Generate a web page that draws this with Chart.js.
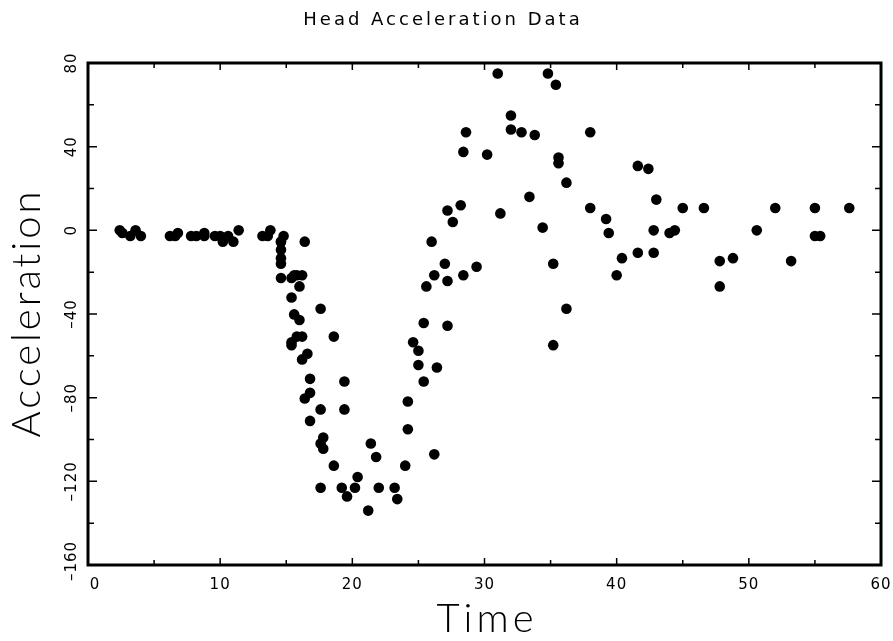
<!DOCTYPE html>
<html>
<head>
<meta charset="utf-8">
<script src="https://cdn.jsdelivr.net/npm/chart.js@4"></script>
<style>
  html, body { margin: 0; padding: 0; background: #fff; }
  canvas { display: block; }
</style>
</head>
<body>
<canvas id="chart" width="893" height="641"></canvas>
<script>
// motorcycle head acceleration data
const times = [2.4, 2.6, 3.2, 3.6, 4.0, 6.2, 6.6, 6.8, 7.8, 8.2, 8.8, 8.8, 9.6, 10.0, 10.2, 10.6, 11.0, 11.4,
  13.2, 13.6, 13.8, 14.6, 14.6, 14.6, 14.6, 14.6, 14.6, 14.8, 15.4, 15.4, 15.4, 15.4, 15.6, 15.6, 15.8, 15.8,
  16.0, 16.0, 16.2, 16.2, 16.2, 16.4, 16.4, 16.6, 16.8, 16.8, 16.8, 17.6, 17.6, 17.6, 17.6, 17.8, 17.8, 18.6,
  18.6, 19.2, 19.4, 19.4, 19.6, 20.2, 20.4, 21.2, 21.4, 21.8, 22.0, 23.2, 23.4, 24.0, 24.2, 24.2, 24.6, 25.0,
  25.0, 25.4, 25.4, 25.6, 26.0, 26.2, 26.2, 26.4, 27.0, 27.2, 27.2, 27.2, 27.6, 28.2, 28.4, 28.4, 28.6, 29.4,
  30.2, 31.0, 31.2, 32.0, 32.0, 32.8, 33.4, 33.8, 34.4, 34.8, 35.2, 35.2, 35.4, 35.6, 35.6, 36.2, 36.2, 38.0,
  38.0, 39.2, 39.4, 40.0, 40.4, 41.6, 41.6, 42.4, 42.8, 42.8, 43.0, 44.0, 44.4, 45.0, 46.6, 47.8, 47.8, 48.8,
  50.6, 52.0, 53.2, 55.0, 55.0, 55.4, 57.6];

const accel = [0.0, -1.3, -2.7, 0.0, -2.7, -2.7, -2.7, -1.3, -2.7, -2.7, -1.3, -2.7, -2.7, -2.7, -5.4, -2.7, -5.4, 0.0,
  -2.7, -2.7, 0.0, -13.3, -5.4, -5.4, -9.3, -16.0, -22.8, -2.7, -22.8, -32.1, -53.5, -54.9, -40.2, -21.5, -21.5, -50.8,
  -42.9, -26.8, -21.5, -50.8, -61.7, -5.4, -80.4, -59.0, -71.0, -91.1, -77.7, -37.5, -85.6, -123.1, -101.9, -99.1, -104.4, -112.5,
  -50.8, -123.1, -85.6, -72.3, -127.2, -123.1, -117.9, -134.0, -101.9, -108.4, -123.1, -123.1, -128.5, -112.5, -95.1, -81.8, -53.5, -64.4,
  -57.6, -72.3, -44.3, -26.8, -5.4, -107.1, -21.5, -65.6, -16.0, -45.6, -24.2, 9.5, 4.0, 12.0, -21.5, 37.5, 46.9, -17.4,
  36.2, 75.0, 8.1, 54.9, 48.2, 46.9, 16.0, 45.6, 1.3, 75.0, -16.0, -54.9, 69.6, 34.8, 32.1, -37.5, 22.8, 46.9,
  10.7, 5.4, -1.3, -21.5, -13.3, 30.8, -10.7, 29.4, 0.0, -10.7, 14.7, -1.3, 0.0, 10.7, 10.7, -26.8, -14.7, -13.3,
  0.0, 10.7, -14.7, -2.7, 10.7, -2.7, 10.7];

const xTicks = [0, 10, 20, 30, 40, 50, 60];
const yTicks = [80, 40, 0, -40, -80, -120, -160];

const points = times.map((t, i) => ({ x: t, y: accel[i] }));

/* =========================
   AXES, TICKS, TITLES
   ========================= */
const framePlugin = {
  id: "frame",
  afterDatasetsDraw(chart) {
    const { ctx, chartArea: a, scales: { x, y } } = chart;
    ctx.save();
    ctx.strokeStyle = "#000";
    ctx.fillStyle = "#000";

    // inward ticks on all four sides
    ctx.lineWidth = 1.5;
    for (let v = 0; v <= 60; v += 5) {
      const px = x.getPixelForValue(v);
      const len = v % 10 === 0 ? 7 : 5;
      ctx.beginPath();
      ctx.moveTo(px, a.bottom);
      ctx.lineTo(px, a.bottom - len);
      ctx.moveTo(px, a.top);
      ctx.lineTo(px, a.top + len);
      ctx.stroke();
    }
    for (let v = -160; v <= 80; v += 20) {
      const py = y.getPixelForValue(v);
      const len = v % 40 === 0 ? 9 : 6;
      ctx.beginPath();
      ctx.moveTo(a.left, py);
      ctx.lineTo(a.left + len, py);
      ctx.moveTo(a.right, py);
      ctx.lineTo(a.right - len, py);
      ctx.stroke();
    }

    // frame
    ctx.lineWidth = 3;
    ctx.strokeRect(a.left, a.top, a.right - a.left, a.bottom - a.top);

    // x tick labels
    ctx.font = "15px 'DejaVu Sans'";
    ctx.letterSpacing = "1px";
    ctx.textAlign = "center";
    ctx.textBaseline = "middle";
    xTicks.forEach(v => {
      let px = x.getPixelForValue(v);
      if (v === 0) px += 7;
      ctx.fillText(String(v), px, 585);
    });

    // y tick labels, rotated
    yTicks.forEach(v => {
      let py = y.getPixelForValue(v);
      if (v === -160) py -= 4;
      ctx.save();
      ctx.translate(72, py);
      ctx.rotate(-Math.PI / 2);
      ctx.fillText(v < 0 ? "\u2013" + Math.abs(v) : String(v), 0, 0);
      ctx.restore();
    });

    // title
    ctx.font = "18px 'DejaVu Sans'";
    ctx.letterSpacing = "3px";
    ctx.fillText("Head Acceleration Data", 443, 20);

    // axis titles
    ctx.font = "300 40px Lato";
    ctx.letterSpacing = "4px";
    ctx.fillText("Time", 487, 619);
    ctx.letterSpacing = "3px";
    ctx.save();
    ctx.translate(27, 313);
    ctx.rotate(-Math.PI / 2);
    ctx.fillText("Acceleration", 0, 0);
    ctx.restore();

    ctx.restore();
  }
};

new Chart(document.getElementById("chart"), {
  type: "scatter",
  data: {
    datasets: [{
      data: points,
      pointStyle: "circle",
      pointRadius: 5.3,
      borderWidth: 0,
      backgroundColor: "#000",
      borderColor: "#000"
    }]
  },
  options: {
    responsive: false,
    animation: false,
    layout: { padding: { left: 88, top: 63, right: 12, bottom: 76 } },
    plugins: { legend: { display: false }, tooltip: { enabled: false } },
    scales: {
      x: { type: "linear", min: 0, max: 60, display: false },
      y: { type: "linear", min: -160, max: 80, display: false }
    }
  },
  plugins: [framePlugin]
});
</script>
</body>
</html>
